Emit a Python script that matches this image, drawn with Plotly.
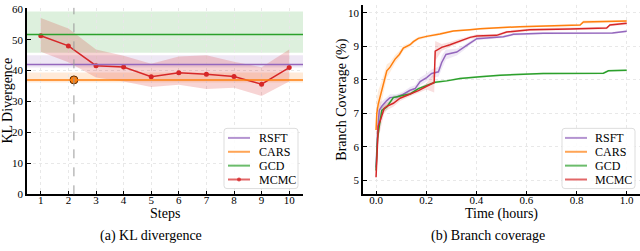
import plotly.graph_objects as go

W, H = 640, 251

# ---------------- KL divergence panel (a) ----------------
steps = [1, 2, 3, 4, 5, 6, 7, 8, 9, 10]
mcmc_kl = [51.3, 48.0, 41.6, 41.2, 38.0, 39.3, 38.8, 38.1, 35.6, 41.0]
mcmc_kl_low = [46.1, 42.7, 37.8, 36.5, 34.7, 35.4, 34.1, 34.5, 31.8, 36.5]
mcmc_kl_high = [57.0, 53.6, 46.8, 44.8, 42.2, 44.6, 45.0, 42.9, 41.1, 46.8]
rsft_kl, rsft_kl_lo, rsft_kl_hi = 42.0, 41.0, 45.0
cars_kl, cars_kl_lo, cars_kl_hi = 37.0, 36.2, 39.4
gcd_kl, gcd_kl_lo, gcd_kl_hi = 51.7, 45.8, 59.1
marked_step = 2.2
kl_yticks = [0, 10, 20, 30, 40, 50, 60]

# ---------------- Branch coverage panel (b) ----------------
rsft_t = [0, 0.006, 0.013, 0.023, 0.043, 0.056, 0.083, 0.109, 0.136, 0.156, 0.176, 0.202, 0.222,
          0.249, 0.262, 0.279, 0.322, 0.348, 0.375, 0.402, 0.508, 0.548, 0.667, 0.943, 1.0]
rsft_cov = [5.38, 6.43, 7.09, 7.21, 7.38, 7.47, 7.49, 7.57, 7.69, 7.74, 7.95, 8.07, 8.19,
            8.24, 8.52, 8.76, 8.83, 8.95, 9.10, 9.23, 9.29, 9.36, 9.39, 9.40, 9.45]
rsft_sd = [0.15, 0.3, 0.25, 0.15, 0.1, 0.1, 0.08, 0.08, 0.1, 0.1, 0.12, 0.12, 0.12,
           0.15, 0.2, 0.15, 0.1, 0.08, 0.06, 0.05, 0.04, 0.04, 0.03, 0.03, 0.03]

cars_t = [0, 0.003, 0.009, 0.016, 0.023, 0.043, 0.056, 0.076, 0.093, 0.109, 0.136, 0.149, 0.169,
          0.202, 0.255, 0.308, 0.375, 0.415, 0.574, 0.814, 0.827, 1.0]
cars_cov = [6.5, 7.0, 7.28, 7.47, 7.67, 8.27, 8.38, 8.62, 8.76, 8.95, 9.05, 9.14, 9.24,
            9.30, 9.37, 9.46, 9.50, 9.53, 9.59, 9.64, 9.73, 9.76]
cars_sd = [0.5, 0.45, 0.4, 0.35, 0.3, 0.2, 0.15, 0.12, 0.1, 0.08, 0.06, 0.05, 0.05,
           0.04, 0.04, 0.03, 0.03, 0.03, 0.03, 0.03, 0.05, 0.03]

gcd_t = [0, 0.006, 0.013, 0.023, 0.043, 0.069, 0.109, 0.136, 0.169, 0.202, 0.236, 0.282, 0.335,
         0.415, 0.495, 0.667, 0.907, 0.927, 1.0]
gcd_cov = [5.29, 6.24, 6.62, 7.09, 7.19, 7.47, 7.54, 7.58, 7.74, 7.83, 7.93, 7.97, 8.04,
           8.09, 8.14, 8.19, 8.20, 8.27, 8.29]
gcd_sd = [0.15, 0.2, 0.2, 0.1, 0.08, 0.06, 0.05, 0.05, 0.04, 0.04, 0.04, 0.03, 0.03,
          0.03, 0.03, 0.03, 0.03, 0.03, 0.03]

mcmc_t = [0, 0.003, 0.009, 0.016, 0.032, 0.043, 0.069, 0.096, 0.136, 0.169, 0.202, 0.232, 0.236,
          0.262, 0.295, 0.335, 0.375, 0.402, 0.481, 0.521, 0.614, 0.774, 0.920, 0.933, 1.0]
mcmc_cov = [5.09, 5.76, 6.62, 6.76, 7.14, 7.21, 7.30, 7.45, 7.57, 7.68, 7.81, 7.92, 8.86,
            8.97, 9.05, 9.17, 9.27, 9.31, 9.33, 9.43, 9.50, 9.52, 9.55, 9.64, 9.69]
mcmc_sd = [0.1, 0.4, 0.35, 0.3, 0.15, 0.12, 0.1, 0.08, 0.06, 0.06, 0.1, 0.3, 0.3,
           0.1, 0.08, 0.06, 0.05, 0.05, 0.04, 0.04, 0.04, 0.04, 0.04, 0.04, 0.04]

cov_xticks = [0.0, 0.2, 0.4, 0.6, 0.8, 1.0]
cov_yticks = [5, 6, 7, 8, 9, 10]

methods = ["RSFT", "CARS", "GCD", "MCMC"]
colors = {"RSFT": "#9467bd", "CARS": "#ff7f0e", "GCD": "#2ca02c", "MCMC": "#d62728"}


def rgba(hexc, a):
    h = hexc.lstrip("#")
    return "rgba(%d,%d,%d,%s)" % (int(h[0:2], 16), int(h[2:4], 16), int(h[4:6], 16), a)


def px(x):
    return x / W


def py(y):
    return 1 - y / H


fig = go.Figure()

# ---- panel (a)
shapes = []
for name, lo, hi in [("GCD", gcd_kl_lo, gcd_kl_hi),
                     ("RSFT", rsft_kl_lo, rsft_kl_hi),
                     ("CARS", cars_kl_lo, cars_kl_hi)]:
    shapes.append(dict(type="rect", xref="x domain", yref="y", x0=0, x1=1, y0=lo, y1=hi,
                       fillcolor=rgba(colors[name], 0.16), line=dict(width=0), layer="below"))
for name, val in [("GCD", gcd_kl), ("RSFT", rsft_kl), ("CARS", cars_kl)]:
    shapes.append(dict(type="line", xref="x domain", yref="y", x0=0, x1=1, y0=val, y1=val,
                       line=dict(color=colors[name], width=1.5), layer="above"))
shapes.append(dict(type="line", xref="x", yref="y domain", x0=marked_step, x1=marked_step, y0=0, y1=1,
                   line=dict(color="#999999", width=1, dash="dash")))

fig.add_trace(go.Scatter(x=steps + steps[::-1], y=mcmc_kl_high + mcmc_kl_low[::-1], fill="toself",
                         fillcolor=rgba(colors["MCMC"], 0.2), line=dict(width=0), mode="lines",
                         hoverinfo="skip", xaxis="x", yaxis="y"))
fig.add_trace(go.Scatter(x=steps, y=mcmc_kl, mode="lines+markers", name="MCMC",
                         line=dict(color=colors["MCMC"], width=1.5), marker=dict(size=5, color=colors["MCMC"]),
                         xaxis="x", yaxis="y"))
fig.add_trace(go.Scatter(x=[marked_step], y=[cars_kl], mode="markers",
                         marker=dict(size=8, color=colors["CARS"], line=dict(color="#5a2a00", width=1)),
                         xaxis="x", yaxis="y"))

# ---- panel (b)
series = {
    "RSFT": (rsft_t, rsft_cov, rsft_sd),
    "CARS": (cars_t, cars_cov, cars_sd),
    "GCD": (gcd_t, gcd_cov, gcd_sd),
    "MCMC": (mcmc_t, mcmc_cov, mcmc_sd),
}
for name in methods:
    t, v, s = series[name]
    up = [a + b for a, b in zip(v, s)]
    lo = [a - b for a, b in zip(v, s)]
    fig.add_trace(go.Scatter(x=t + t[::-1], y=up + lo[::-1], fill="toself", mode="lines",
                             fillcolor=rgba(colors[name], 0.15), line=dict(width=0),
                             hoverinfo="skip", xaxis="x2", yaxis="y2"))
for name in methods:
    t, v, s = series[name]
    fig.add_trace(go.Scatter(x=t, y=v, mode="lines", name=name,
                             line=dict(color=colors[name], width=1.5), xaxis="x2", yaxis="y2"))

# ---- manual legends (matplotlib style)
ann = []


def legend(x0, x1, y0, y1, line_x0, line_x1, text_x, with_marker):
    r = 3
    path = ("M %f,%f L %f,%f Q %f,%f %f,%f L %f,%f Q %f,%f %f,%f L %f,%f Q %f,%f %f,%f L %f,%f Q %f,%f %f,%f Z" % (
        px(x0 + r), py(y0), px(x1 - r), py(y0), px(x1), py(y0), px(x1), py(y0 + r),
        px(x1), py(y1 - r), px(x1), py(y1), px(x1 - r), py(y1),
        px(x0 + r), py(y1), px(x0), py(y1), px(x0), py(y1 - r),
        px(x0), py(y0 + r), px(x0), py(y0), px(x0 + r), py(y0)))
    shapes.append(dict(type="path", xref="paper", yref="paper", path=path,
                       fillcolor="rgba(255,255,255,0.85)", line=dict(color="#dddddd", width=1), layer="above"))
    ys = [139, 153.5, 168, 182.5]
    for name, yy in zip(methods, ys):
        shapes.append(dict(type="line", xref="paper", yref="paper", x0=px(line_x0), x1=px(line_x1),
                           y0=py(yy), y1=py(yy), line=dict(color=rgba(colors[name], 0.7), width=2),
                           layer="above"))
        if with_marker and name == "MCMC":
            cx = (line_x0 + line_x1) / 2
            shapes.append(dict(type="circle", xref="paper", yref="paper", x0=px(cx - 2), x1=px(cx + 2),
                               y0=py(yy + 2), y1=py(yy - 2), fillcolor=rgba(colors[name], 0.8),
                               line=dict(width=0), layer="above"))
        ann.append(dict(text=name, xref="paper", yref="paper", x=px(text_x), y=py(yy), xanchor="left",
                        yanchor="middle", showarrow=False, font=dict(size=12)))


legend(224, 298, 129, 192, 228, 250, 257, True)
legend(562, 635, 129, 192, 565, 587, 593, False)

# ---- titles and captions
ann += [
    dict(text="Steps", x=px(165), y=py(218.5), xref="paper", yref="paper", showarrow=False,
         xanchor="center", yanchor="middle", font=dict(size=14)),
    dict(text="Time (hours)", x=px(501), y=py(218.5), xref="paper", yref="paper", showarrow=False,
         xanchor="center", yanchor="middle", font=dict(size=14)),
    dict(text="KL Divergence", x=px(8), y=py(100), xref="paper", yref="paper", showarrow=False,
         textangle=-90, xanchor="center", yanchor="middle", font=dict(size=14)),
    dict(text="Branch Coverage (%)", x=px(342), y=py(99), xref="paper", yref="paper", showarrow=False,
         textangle=-90, xanchor="center", yanchor="middle", font=dict(size=14)),
    dict(text="(a) KL divergence", x=px(151), y=py(242), xref="paper", yref="paper", showarrow=False,
         xanchor="center", yanchor="middle", font=dict(size=14)),
    dict(text="(b) Branch coverage", x=px(488), y=py(242), xref="paper", yref="paper", showarrow=False,
         xanchor="center", yanchor="middle", font=dict(size=14)),
]

axis_common = dict(showline=True, linecolor="black", linewidth=1.5, mirror=False, ticks="inside",
                   ticklen=4, tickwidth=1, tickcolor="black", showgrid=True, gridcolor="#e8e8e8",
                   griddash="dot", gridwidth=1, zeroline=False, tickfont=dict(size=11), fixedrange=True,
                   ticklabeloverflow="allow")

fig.update_layout(
    width=W, height=H, margin=dict(l=0, r=0, t=0, b=0),
    paper_bgcolor="white", plot_bgcolor="white", showlegend=False,
    font=dict(family="Liberation Serif", size=11, color="black"),
    xaxis=dict(domain=[px(27), px(303)], range=[0.5, 10.5], anchor="y", tickvals=steps,
               ticklabelstandoff=-5, **axis_common),
    yaxis=dict(domain=[py(198), py(3)], range=[0, 60.3], anchor="x", tickvals=kl_yticks, **axis_common),
    xaxis2=dict(domain=[px(363), 1.0], range=[-0.052, 1.053], anchor="y2", tickvals=cov_xticks,
                tickformat=".1f", ticklabelstandoff=-5, **axis_common),
    yaxis2=dict(domain=[py(198), 1.0], range=[4.58, 10.237], anchor="x2", tickvals=cov_yticks, **axis_common),
    shapes=shapes, annotations=ann,
)

fig.write_html("out.html", config={"displayModeBar": False},
               post_script="document.body.style.margin='0';document.body.style.overflow='hidden';")
